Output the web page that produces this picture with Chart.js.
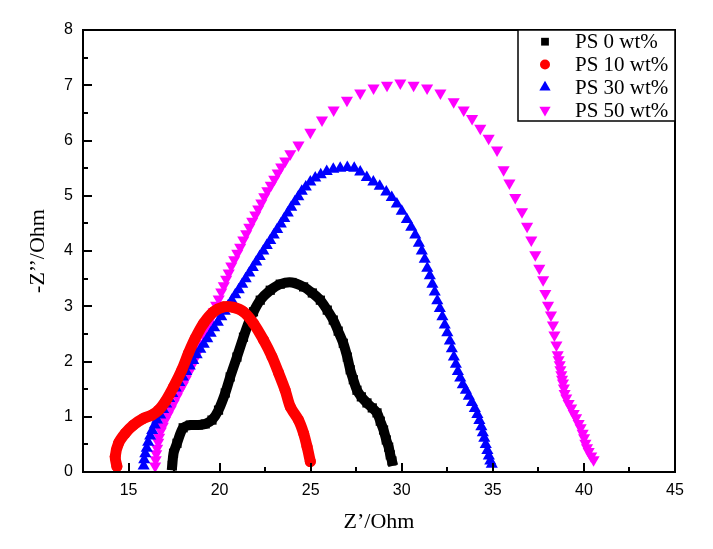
<!DOCTYPE html>
<html>
<head>
<meta charset="utf-8">
<script src="https://cdn.jsdelivr.net/npm/chart.js@4.4.1/dist/chart.umd.min.js"></script>
<style>
  html, body { margin: 0; padding: 0; background: #fff; }
</style>
</head>
<body>
<canvas id="nyquist" width="713" height="549"></canvas>
<script>
// series (Z' in ohm, -Z'' in ohm)
const seriesLabels = ['PS 0 wt%', 'PS 10 wt%', 'PS 30 wt%', 'PS 50 wt%'];
const seriesColors = ['#000000', '#ff0000', '#0000ff', '#ff00ff'];

const ps0X = [17.40, 17.47, 17.66, 18.00, 18.39, 18.83, 19.21, 19.58, 19.94, 20.31, 20.58, 20.95, 21.31, 21.59, 21.86, 22.23, 22.78, 23.33, 23.97, 24.61, 25.09, 25.53, 25.91, 26.24, 26.51, 26.79, 27.01, 27.17, 27.34, 27.54, 27.78, 28.09, 28.38, 28.64, 28.82, 29.00, 29.15, 29.28, 29.37, 29.46];
const ps0Y = [0.12, 0.34, 0.52, 0.80, 0.85, 0.85, 0.87, 0.94, 1.12, 1.43, 1.72, 2.08, 2.44, 2.70, 2.90, 3.11, 3.29, 3.40, 3.43, 3.35, 3.24, 3.11, 2.93, 2.75, 2.55, 2.33, 2.08, 1.85, 1.67, 1.48, 1.36, 1.25, 1.16, 1.07, 0.92, 0.76, 0.58, 0.45, 0.31, 0.20];

const ps10X = [14.36, 14.27, 14.45, 14.82, 15.27, 15.82, 16.28, 16.65, 17.01, 17.47, 17.93, 18.29, 18.66, 19.12, 19.67, 20.22, 20.76, 21.31, 21.86, 22.41, 22.87, 23.24, 23.60, 23.88, 24.33, 24.61, 24.80, 24.98];
const ps10Y = [0.10, 0.28, 0.52, 0.70, 0.85, 0.97, 1.03, 1.12, 1.27, 1.54, 1.85, 2.15, 2.42, 2.69, 2.90, 2.99, 2.98, 2.90, 2.69, 2.39, 2.09, 1.79, 1.48, 1.18, 0.94, 0.70, 0.46, 0.19];

const ps30X = [15.83, 15.86, 15.92, 16.00, 16.08, 16.19, 16.30, 16.44, 16.57, 16.74, 16.90, 17.07, 17.23, 17.40, 17.59, 17.78, 17.98, 18.17, 18.36, 18.55, 18.74, 18.94, 19.13, 19.32, 19.51, 19.70, 19.90, 20.09, 20.28, 20.47, 20.67, 20.86, 21.05, 21.24, 21.43, 21.63, 21.82, 22.01, 22.20, 22.40, 22.59, 22.78, 22.97, 23.16, 23.36, 23.55, 23.74, 23.93, 24.13, 24.32, 24.51, 24.73, 24.98, 25.25, 25.55, 25.88, 26.24, 26.62, 27.01, 27.39, 27.72, 28.08, 28.44, 28.79, 29.15, 29.45, 29.73, 30.00, 30.28, 30.52, 30.74, 30.94, 31.10, 31.26, 31.40, 31.54, 31.68, 31.81, 31.95, 32.09, 32.23, 32.36, 32.50, 32.64, 32.75, 32.86, 32.97, 33.08, 33.21, 33.35, 33.52, 33.68, 33.85, 34.01, 34.15, 34.26, 34.37, 34.45, 34.53, 34.61, 34.70, 34.78, 34.86, 34.94];
const ps30Y = [0.11, 0.22, 0.33, 0.43, 0.54, 0.65, 0.75, 0.85, 0.94, 1.03, 1.13, 1.23, 1.33, 1.42, 1.52, 1.62, 1.72, 1.82, 1.92, 2.02, 2.12, 2.22, 2.31, 2.41, 2.51, 2.61, 2.71, 2.81, 2.91, 3.01, 3.11, 3.21, 3.30, 3.40, 3.50, 3.60, 3.70, 3.80, 3.90, 4.00, 4.10, 4.19, 4.29, 4.39, 4.49, 4.59, 4.69, 4.79, 4.89, 4.98, 5.08, 5.16, 5.25, 5.32, 5.38, 5.44, 5.48, 5.50, 5.51, 5.50, 5.43, 5.33, 5.25, 5.17, 5.07, 4.97, 4.85, 4.72, 4.57, 4.43, 4.29, 4.14, 4.00, 3.85, 3.69, 3.55, 3.40, 3.26, 3.10, 2.96, 2.81, 2.66, 2.52, 2.37, 2.23, 2.08, 1.95, 1.82, 1.70, 1.58, 1.48, 1.37, 1.26, 1.15, 1.04, 0.93, 0.82, 0.71, 0.61, 0.50, 0.39, 0.29, 0.20, 0.14];

const ps50X = [16.46, 16.49, 16.52, 16.57, 16.63, 16.68, 16.77, 16.88, 17.01, 17.15, 17.32, 17.48, 17.65, 17.81, 17.98, 18.14, 18.30, 18.44, 18.58, 18.72, 18.85, 18.99, 19.13, 19.27, 19.40, 19.54, 19.68, 19.81, 19.95, 20.09, 20.23, 20.36, 20.50, 20.64, 20.80, 20.97, 21.13, 21.30, 21.46, 21.63, 21.79, 21.96, 22.12, 22.29, 22.45, 22.62, 22.81, 23.00, 23.19, 23.38, 23.60, 23.88, 24.33, 24.98, 25.62, 26.26, 26.99, 27.72, 28.45, 29.19, 29.92, 30.65, 31.39, 32.12, 32.85, 33.40, 33.86, 34.31, 34.77, 35.23, 35.59, 35.91, 36.23, 36.60, 36.88, 37.11, 37.33, 37.55, 37.76, 37.88, 38.03, 38.19, 38.30, 38.38, 38.49, 38.56, 38.61, 38.67, 38.71, 38.76, 38.80, 38.85, 38.90, 38.94, 39.03, 39.16, 39.30, 39.44, 39.57, 39.71, 39.82, 39.93, 40.01, 40.08, 40.17, 40.26, 40.40, 40.53];
const ps50Y = [0.11, 0.22, 0.33, 0.43, 0.54, 0.63, 0.74, 0.83, 0.94, 1.03, 1.14, 1.25, 1.36, 1.47, 1.57, 1.68, 1.79, 1.90, 2.01, 2.12, 2.23, 2.33, 2.46, 2.57, 2.68, 2.79, 2.90, 3.02, 3.13, 3.26, 3.37, 3.49, 3.60, 3.73, 3.84, 3.96, 4.07, 4.20, 4.31, 4.43, 4.54, 4.65, 4.76, 4.87, 4.98, 5.09, 5.19, 5.30, 5.41, 5.52, 5.63, 5.76, 5.92, 6.15, 6.37, 6.55, 6.73, 6.86, 6.95, 7.00, 7.04, 7.00, 6.95, 6.86, 6.70, 6.55, 6.40, 6.22, 6.04, 5.83, 5.47, 5.23, 4.97, 4.71, 4.45, 4.20, 3.93, 3.69, 3.48, 3.23, 3.02, 2.84, 2.66, 2.48, 2.30, 2.12, 2.03, 1.94, 1.85, 1.76, 1.68, 1.61, 1.52, 1.42, 1.34, 1.24, 1.16, 1.06, 0.98, 0.88, 0.80, 0.70, 0.62, 0.52, 0.44, 0.37, 0.29, 0.22];

const xTicks = [15, 20, 25, 30, 35, 40, 45];
const yTicks = [0, 1, 2, 3, 4, 5, 6, 7, 8];

function toPoints(xs, ys) {
    return xs.map((x, i) => ({ x: x, y: ys[i] }));
}

const tickFont = { family: '"Liberation Sans", Arial, sans-serif', size: 16 };
const titleFont = { family: '"Liberation Serif", "Times New Roman", serif', size: 22 };

// box, inward ticks and the legend inside the plot
const framePlugin = {
    id: 'frame',
    afterDraw(chart) {
        const { ctx, chartArea: a, scales: { x, y } } = chart;
        ctx.save();
        ctx.strokeStyle = '#000';
        ctx.lineWidth = 2;
        ctx.beginPath();
        for (let v = x.min; v <= x.max + 1e-6; v += 2.5) {
            const px = Math.round(x.getPixelForValue(v));
            const len = xTicks.includes(v) ? 9 : 5;
            ctx.moveTo(px, a.bottom);
            ctx.lineTo(px, a.bottom - len);
        }
        for (let v = y.min; v <= y.max + 1e-6; v += 0.5) {
            const py = Math.round(y.getPixelForValue(v));
            const len = yTicks.includes(v) ? 9 : 5;
            ctx.moveTo(a.left, py);
            ctx.lineTo(a.left + len, py);
        }
        ctx.stroke();
        ctx.strokeRect(a.left, a.top, a.right - a.left, a.bottom - a.top);

        // legend
        const boxLeft = 518, boxBottom = 121;
        ctx.fillStyle = '#fff';
        ctx.fillRect(boxLeft, a.top, a.right - boxLeft, boxBottom - a.top);
        ctx.lineWidth = 1.5;
        ctx.strokeRect(boxLeft, a.top, a.right - boxLeft, boxBottom - a.top);
        ctx.font = '21px "Liberation Serif", "Times New Roman", serif';
        ctx.textBaseline = 'middle';
        ctx.textAlign = 'left';
        const rows = [41.7, 64.5, 87.3, 110];
        chart.data.datasets.forEach((ds, i) => {
            ctx.fillStyle = ds.backgroundColor;
            ctx.strokeStyle = ds.backgroundColor;
            Chart.helpers.drawPoint(ctx, {
                pointStyle: ds.pointStyle,
                rotation: ds.pointRotation || 0,
                radius: ds.legendRadius,
                borderWidth: 0
            }, 545, rows[i]);
            ctx.fillStyle = '#000';
            ctx.fillText(ds.label, 575, rows[i] + 1);
        });
        ctx.restore();
    }
};

new Chart(document.getElementById('nyquist'), {
    type: 'scatter',
    data: {
        datasets: [
            {
                label: seriesLabels[0],
                data: toPoints(ps0X, ps0Y),
                backgroundColor: seriesColors[0],
                borderColor: seriesColors[0],
                pointStyle: 'rect',
                pointRadius: 6.5,
                legendRadius: 5.5,
                pointBorderWidth: 0,
                showLine: true,
                borderWidth: 10,
                tension: 0.3,
                borderJoinStyle: 'round',
                borderCapStyle: 'square',
                order: 1
            },
            {
                label: seriesLabels[1],
                data: toPoints(ps10X, ps10Y),
                backgroundColor: seriesColors[1],
                borderColor: seriesColors[1],
                pointStyle: 'circle',
                pointRadius: 5.5,
                legendRadius: 5,
                pointBorderWidth: 0,
                showLine: true,
                borderWidth: 11,
                tension: 0.3,
                borderJoinStyle: 'round',
                borderCapStyle: 'round',
                order: 0
            },
            {
                label: seriesLabels[2],
                data: toPoints(ps30X, ps30Y),
                backgroundColor: seriesColors[2],
                borderColor: seriesColors[2],
                pointStyle: 'triangle',
                pointRadius: 7,
                legendRadius: 6.5,
                pointBorderWidth: 0,
                showLine: false,
                order: 2
            },
            {
                label: seriesLabels[3],
                data: toPoints(ps50X, ps50Y),
                backgroundColor: seriesColors[3],
                borderColor: seriesColors[3],
                pointStyle: 'triangle',
                pointRotation: 180,
                pointRadius: 7,
                legendRadius: 6.5,
                pointBorderWidth: 0,
                showLine: false,
                order: 3
            }
        ]
    },
    options: {
        responsive: false,
        animation: false,
        layout: { padding: { top: 30, right: 38, left: 0, bottom: 0 } },
        plugins: {
            legend: { display: false },
            tooltip: { enabled: false }
        },
        scales: {
            x: {
                type: 'linear',
                min: 12.5,
                max: 45,
                afterBuildTicks: s => { s.ticks = xTicks.map(v => ({ value: v })); },
                afterFit: s => { s.height = 77; },
                grid: { display: false, drawTicks: false },
                border: { display: false },
                ticks: { color: '#000', font: tickFont, padding: 9, autoSkip: false, maxRotation: 0 },
                title: { display: true, text: 'Z’/Ohm', color: '#000', font: titleFont, padding: { top: 0, bottom: 14 } }
            },
            y: {
                type: 'linear',
                min: 0,
                max: 8,
                afterBuildTicks: s => { s.ticks = yTicks.map(v => ({ value: v })); },
                afterFit: s => { s.width = 83; },
                grid: { display: false, drawTicks: false },
                border: { display: false },
                ticks: { color: '#000', font: tickFont, padding: 10, autoSkip: false },
                title: { display: true, text: '-Z’’/Ohm', color: '#000', font: titleFont, padding: { top: 25, bottom: 0 } }
            }
        }
    },
    plugins: [framePlugin]
});
</script>
</body>
</html>
